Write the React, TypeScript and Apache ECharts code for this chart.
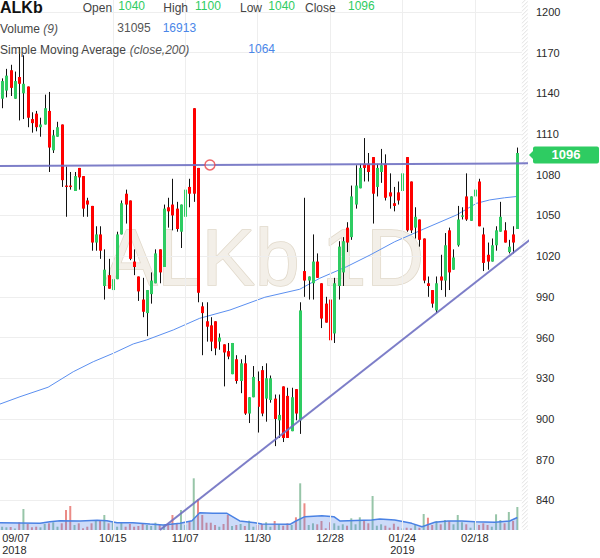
import React, { useEffect, useRef } from 'react';
import * as echarts from 'echarts';

const FONT = 'Arial, "Liberation Sans", Helvetica, sans-serif';

// ---- data (daily candles, 09/07/2018 .. 03/01/2019) ----
const opens = [1136,1142,1157,1136,1152,1140,1145,1121,1125,1115,1117,1127,1098,1108,1117,1072,1072,1068,1085,1079,
  1061,1057,1030,1036,998,1006,995,1003,1036,1066,1061,1016,1005,988,978,992,1000,1025,1012,1056,
  1058,1055,1038,1049,1071,1129,1085,983,972,969,972,957,955,950,933,944,928,941,904,916,
  928,936,915,914,915,899,924,917,891,922,899,1009,1002,1000,1016,1000,985,988,963,998,
  1008,1041,1034,1058,1070,1088,1088,1093,1071,1082,1088,1067,1059,1067,1068,1093,1075,1041,1047,1033,
  1000,995,980,1005,1002,1039,1010,1028,1049,1064,1046,1064,1075,1036,1021,1016,1028,1038,1039,1023,
  1036,1040];
const highs = [1151,1158,1161,1156,1174,1168,1145,1126,1127,1122,1139,1141,1113,1119,1117,1086,1082,1082,1085,1079,
  1063,1057,1042,1042,1025,1018,1018,1038,1061,1069,1061,1025,1005,1004,995,1008,1025,1025,1058,1063,
  1077,1060,1058,1077,1077,1129,1085,986,986,975,972,963,955,956,956,947,944,947,916,939,
  935,939,941,932,918,918,924,923,923,922,986,1063,1005,1036,1022,1000,990,988,1004,1031,
  1034,1045,1072,1087,1088,1107,1096,1093,1088,1099,1095,1081,1071,1075,1081,1093,1075,1056,1047,1033,
  1005,995,1005,1021,1037,1041,1025,1057,1056,1081,1064,1077,1077,1041,1030,1033,1042,1060,1045,1032,
  1042,1100];
const lows = [1129,1137,1138,1136,1120,1121,1115,1111,1112,1108,1117,1082,1096,1108,1071,1049,1069,1068,1069,1049,
  1049,1024,1024,1018,988,996,981,1003,1036,1044,1017,1006,987,975,961,985,1000,1000,1012,1041,
  1039,1038,1026,1049,1056,1060,986,947,957,950,947,951,924,944,933,926,919,903,897,916,
  890,902,898,912,880,886,883,886,891,899,889,990,988,988,1004,967,971,942,956,988,
  998,1023,1032,1055,1070,1075,1075,1044,1064,1074,1061,1055,1053,1058,1061,1038,1037,1033,1027,1000,
  990,982,978,995,990,995,1010,1027,1047,1046,1046,1060,1042,1009,1010,1016,1024,1038,1030,1022,
  1022,1040];
const closes = [1149,1153,1144,1149,1147,1147,1122,1118,1115,1117,1129,1100,1109,1115,1076,1071,1071,1079,1078,1055,
  1058,1030,1036,1024,1010,996,1003,1036,1059,1058,1018,1012,994,979,995,1002,1022,1008,1055,1053,
  1050,1040,1058,1069,1066,1066,993,978,968,957,952,960,949,946,956,928,941,904,916,931,
  909,904,930,930,900,903,886,886,916,904,980,1002,1005,1016,1004,974,971,958,1000,1027,
  1031,1030,1064,1072,1085,1085,1082,1066,1085,1087,1063,1064,1057,1061,1081,1039,1039,1049,1032,1002,
  998,985,1000,1002,1028,1008,1019,1047,1050,1047,1064,1069,1042,1015,1016,1028,1039,1049,1030,1027,
  1030,1096];
const volumes = [4460,3650,4060,2030,10410,28390,8110,3650,4460,3650,8110,9060,10410,4460,9060,27040,32450,6760,9060,2300,
  4460,9060,12570,12570,20280,9060,9870,4460,9870,4460,8110,4460,5410,8110,6760,5410,9870,6760,6760,6760,
  20280,8110,27040,6760,11220,69900,41510,20280,9870,9870,6760,4460,8110,20280,5410,6760,8110,5410,12570,4460,
  6760,8110,10410,4460,12170,7710,5810,9060,6760,17170,63140,36100,6760,9060,7710,12170,2300,10410,9060,5810,
  7710,5810,15820,7710,17170,13520,9060,45970,5810,7710,5810,3110,8520,4460,2300,3110,2300,7710,3110,21630,
  16630,6760,12170,7710,13520,12170,7710,20280,10410,7710,3110,10410,6760,9060,6760,4460,21230,13520,9060,24340,
  12170,31095];
// bars whose volume colour is green although the candle closed lower
const volumeUpOverrides = [45, 87, 99];
// Simple moving average (close, 200): [candle index, value]
const smaPoints = [[-0.5,911],[4.2,916.4],[10.8,923.4],[16.7,934.8],[21.4,942.2],[26.1,948.4],[30.8,955.3],
  [33.9,958.2],[40.2,965.6],[46.4,974.2],[53.5,980.3],[61.7,989.7],[69.9,995.6],[74.6,1003.7],[80.9,1012.2],
  [86.4,1020.8],[92.2,1030.6],[98.9,1039.8],[106.7,1050.3],[111.4,1058.9],[114.5,1061.4],[118,1063],[121,1064]];
// Volume moving average (9): [candle index, value]
const volMaPoints = [[-0.5,9900],[8.9,9000],[11.2,11300],[13.6,12600],[18.3,12200],[22.3,13100],[24.6,12600],
  [27,9900],[30.7,9900],[34.7,8100],[37.8,6800],[41.8,9000],[44.6,12600],[46.4,23400],[49.5,22500],[52.8,22500],
  [55.8,12200],[59.4,9900],[61,8000],[67.6,7700],[69,12200],[71.1,18000],[75.1,19400],[77.9,18000],[79.3,12200],
  [86.8,13500],[88.7,14900],[92.2,13500],[96.2,9000],[98.6,4500],[101.6,10400],[104.7,12200],[108,12200],
  [111,11300],[115.7,10400],[119.2,12200],[121,16913]];
const xTickIndex = [0, 26, 43, 60, 77, 94, 111];
const xTickLabels = ['09/07\n2018', '10/15', '11/07', '11/30', '12/28', '01/24\n2019', '02/18'];
const priceMin = 810;
const priceMax = 1230;
const priceStep = 30;
const resistanceLine = [[-0.5, 1086.4], [123.5, 1088.4]];
const supportLine = [[37.06, 818.2], [123.9, 1032]];
const anchorPoint = [48.8, 1087.2];

const SLOTS = 124; // trading-day slots incl. the future zone
const VIEW_BOTTOM = 818.2;
const VIEW_TOP = 1209;

const UP = '#2ecc62';
const DOWN = '#ff0000';
const VOL_UP = '#97c5a8';
const VOL_DOWN = '#eb8b86';
const GRIDC = '#eeeeee';

const categories = Array.from({ length: SLOTS }, (_, i) => String(i));

function renderCandle(params: any, api: any) {
  const i = api.value(0), o = api.value(1), c = api.value(2), l = api.value(3), h = api.value(4);
  const top = api.coord([i, Math.max(o, c)]);
  const bot = api.coord([i, Math.min(o, c)]);
  const hi = api.coord([i, h]);
  const lo = api.coord([i, l]);
  const cx = Math.round(top[0]);
  return {
    type: 'group',
    children: [
      { type: 'line', shape: { x1: cx + 0.5, y1: hi[1], x2: cx + 0.5, y2: lo[1] }, style: { stroke: '#111', lineWidth: 1 } },
      { type: 'rect', shape: { x: cx - 1, y: top[1], width: 3, height: Math.max(1.2, bot[1] - top[1]) }, style: { fill: c >= o ? UP : DOWN } },
    ],
  };
}

function renderHatch(params: any, api: any) {
  const a = api.coord([api.value(0), VIEW_TOP]);
  const b = api.coord([api.value(1), VIEW_BOTTOM]);
  const x0 = a[0], y0 = a[1], x1 = b[0], y1 = b[1];
  const w = x1 - x0;
  const children: any[] = [{ type: 'rect', shape: { x: x0, y: y0, width: w, height: y1 - y0 }, style: { fill: '#ffffff' } }];
  for (let k = y0; k < y1 + w; k += 4) {
    children.push({ type: 'line', shape: { x1: x0, y1: k, x2: x1, y2: k - w }, style: { stroke: '#e2e2e2', lineWidth: 1 } });
  }
  return { type: 'group', children, clipPath: { type: 'rect', shape: { x: x0, y: y0, width: w, height: y1 - y0 } } };
}

export default function App() {
  const ref = useRef<HTMLDivElement>(null);
  useEffect(() => {
    if (!ref.current) return;
    const chart = echarts.init(ref.current, null, { renderer: 'svg' });
    const n = closes.length;
    const last = n - 1;
    const lastClose = closes[last];
    const labelFor = (idx: number) => {
      const k = xTickIndex.indexOf(idx);
      return k >= 0 ? xTickLabels[k] : '';
    };
    const volData = volumes.map((v, i) => ({
      value: v,
      itemStyle: { color: closes[i] >= opens[i] || volumeUpOverrides.includes(i) ? VOL_UP : VOL_DOWN },
    }));
    const candleData = opens.map((o, i) => [i, o, closes[i], lows[i], highs[i]]);
    const txt = (text: string, x: number, y: number, fill: string, extra: any = {}) => ({
      type: 'text', x, y, z: 20,
      style: { text, fill, fontSize: 12, fontFamily: FONT, verticalAlign: 'middle', align: 'left', ...extra },
    });

    const option: any = {
      animation: false,
      backgroundColor: '#ffffff',
      textStyle: { fontFamily: FONT },
      grid: [
        { left: 0, top: -28.84, width: 528, height: 569.94, outerBoundsMode: 'none' },
        { left: 0, top: 440, width: 528, height: 90, outerBoundsMode: 'none' },
      ],
      xAxis: [
        { type: 'value', gridIndex: 0, min: -0.5, max: SLOTS - 0.5, show: false },
        {
          type: 'category', gridIndex: 1, data: categories, boundaryGap: true,
          axisLine: { show: false }, axisTick: { show: false }, splitLine: { show: false },
          axisLabel: {
            interval: (idx: number) => xTickIndex.includes(idx),
            formatter: (v: string) => labelFor(Number(v)),
            color: '#2a2a2a', fontSize: 11, lineHeight: 11.5, margin: 2.5, alignMinLabel: 'left', fontFamily: FONT,
          },
        },
        { type: 'value', gridIndex: 1, min: -0.5, max: SLOTS - 0.5, show: false },
      ],
      yAxis: [
        {
          type: 'value', gridIndex: 0, position: 'right', min: priceMin, max: priceMax, interval: priceStep,
          axisLine: { show: false }, axisTick: { show: false },
          axisLabel: {
            margin: 8, color: '#2a2a2a', fontSize: 11, showMinLabel: false, showMaxLabel: false, fontFamily: FONT,
            formatter: (v: number) => String(v),
          },
          splitLine: { show: true, lineStyle: { color: GRIDC, width: 1 }, showMinLine: false, showMaxLine: false },
        },
        { type: 'value', gridIndex: 1, min: 0, max: 121700, show: false },
      ],
      graphic: [
        {
          type: 'text', x: 264, y: 257.5, z: -1, silent: true,
          style: {
            text: 'ALKb 1D', fontSize: 80, fontFamily: FONT, fill: '#f3efe8', stroke: '#e0d8c9', lineWidth: 1.5,
            align: 'center', verticalAlign: 'middle',
          },
        },
        txt('ALKb', 0, 7.4, '#111', { fontSize: 16, fontWeight: 'bold' }),
        txt('Open', 82.7, 7.6, '#444'),
        txt(String(opens[last]), 118.3, 6, UP),
        txt('High', 163.3, 7.6, '#444'),
        txt(String(highs[last]), 195, 6, UP),
        txt('Low', 240, 7.6, '#444'),
        txt(String(lows[last]), 268.3, 6, UP),
        txt('Close', 305, 7.6, '#444'),
        txt(String(lastClose), 348, 6, UP),
        txt('Volume {i|(9)}', 0, 29.1, '#444', { rich: { i: { fontStyle: 'italic', fill: '#555', fontSize: 12, fontFamily: FONT } } }),
        txt(String(volumes[last]), 117.3, 27.6, '#555'),
        txt(String(volMaPoints[volMaPoints.length - 1][1]), 162.7, 27.6, '#4a86e8'),
        txt('Simple Moving Average {i|(close,200)}', 0, 49.8, '#444', { rich: { i: { fontStyle: 'italic', fill: '#555', fontSize: 12, fontFamily: FONT } } }),
        txt(String(smaPoints[smaPoints.length - 1][1]), 248.3, 48.5, '#4a86e8'),
      ],
      series: [
        {
          name: 'vgrid', type: 'line', xAxisIndex: 0, yAxisIndex: 0, data: [], z: 1, silent: true,
          markLine: {
            silent: true, symbol: ['none', 'none'], label: { show: false },
            lineStyle: { color: GRIDC, width: 1, type: 'solid' },
            data: xTickIndex.filter((i) => i > 0).map((i) => [{ coord: [i, VIEW_BOTTOM] }, { coord: [i, VIEW_TOP] }]),
          },
        },
        {
          name: 'future', type: 'custom', xAxisIndex: 0, yAxisIndex: 0, z: 2, silent: true,
          data: [[n, SLOTS - 0.5]], renderItem: renderHatch,
        },
        {
          name: 'Volume', type: 'bar', xAxisIndex: 1, yAxisIndex: 1, barWidth: 2, data: volData, z: 2, silent: true,
        },
        {
          name: 'VolMA', type: 'line', xAxisIndex: 2, yAxisIndex: 1, data: volMaPoints, symbol: 'none', z: 3, silent: true,
          lineStyle: { color: '#4a82e4', width: 1.5 }, areaStyle: { color: 'rgba(92,141,235,0.45)' },
        },
        {
          name: 'SMA', type: 'line', xAxisIndex: 0, yAxisIndex: 0, data: smaPoints, symbol: 'none', z: 3, silent: true,
          lineStyle: { color: '#5b8ff0', width: 1 },
        },
        {
          name: 'ALKb', type: 'custom', xAxisIndex: 0, yAxisIndex: 0, data: candleData, z: 4, silent: true,
          encode: { x: 0, y: [1, 2, 3, 4] }, renderItem: renderCandle, clip: false,
        },
        {
          name: 'resistance', type: 'line', xAxisIndex: 0, yAxisIndex: 0, data: resistanceLine, symbol: 'none', z: 5, silent: true,
          lineStyle: { color: '#6f70c2', width: 2, opacity: 0.9 },
        },
        {
          name: 'support', type: 'line', xAxisIndex: 0, yAxisIndex: 0, data: supportLine, symbol: 'none', z: 5, silent: true,
          lineStyle: { color: '#6f70c2', width: 2, opacity: 0.9 },
        },
        {
          name: 'anchor', type: 'scatter', xAxisIndex: 0, yAxisIndex: 0, data: [anchorPoint], symbolSize: 10, z: 6, silent: true,
          itemStyle: { color: 'rgba(255,255,255,0.4)', borderColor: '#e8454a', borderWidth: 1.5 },
        },
        {
          name: 'tag', type: 'line', xAxisIndex: 0, yAxisIndex: 0, data: [], z: 7, silent: true,
          markPoint: {
            silent: true,
            symbol: 'path://M0 8.5L4 4.5V2Q4 0 6 0H68Q70 0 70 2V15Q70 17 68 17H6Q4 17 4 15V12.5Z',
            symbolSize: [70, 17], symbolOffset: [36, 2],
            itemStyle: { color: UP },
            label: { show: true, position: 'inside', formatter: String(lastClose), color: '#ffffff', fontWeight: 'bold', fontSize: 13, offset: [2, 0], fontFamily: FONT },
            data: [{ coord: [SLOTS - 0.5, lastClose], value: lastClose }],
          },
        },
      ],
    };
    chart.setOption(option);
    return () => chart.dispose();
  }, []);
  return <div ref={ref} style={{ position: 'fixed', left: 0, top: 0, width: 600, height: 558, background: '#fff' }} />;
}
